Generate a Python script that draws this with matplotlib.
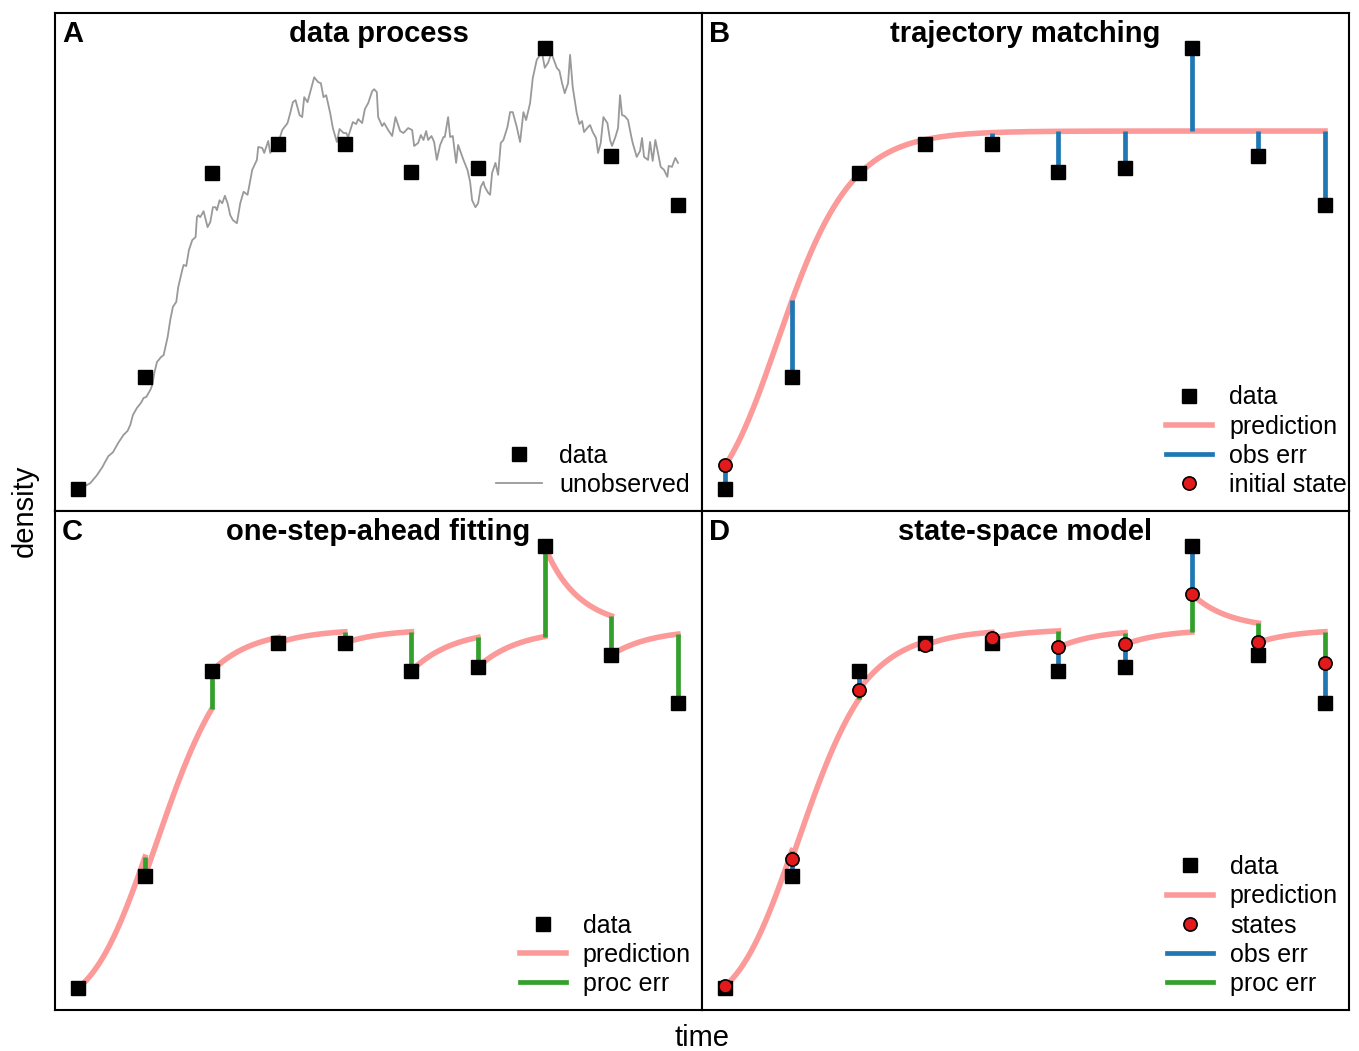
import numpy as np
from matplotlib import pyplot as plt
from matplotlib.lines import Line2D

plt.rcParams['font.family'] = ['Liberation Sans', 'DejaVu Sans']

# observation times and observed densities
times = np.arange(10)
obs = [4.4, 26.9, 67.9, 73.6, 73.6, 68.0, 68.8, 92.9, 71.2, 61.5]

# estimated states (state-space model) and initial state (trajectory matching)
states = [4.8, 30.3, 64.1, 73.1, 74.5, 72.7, 73.3, 83.4, 73.7, 69.5]
init_state = 9.2

# growth model parameters (theta-logistic)
K, r, theta = 76.3, 3.4, 0.5

# unobserved true process
hidden_t = [0.00, 0.10, 0.18, 0.28, 0.36, 0.40, 0.45, 0.52, 0.60, 0.68, 0.74, 0.78, 0.82, 0.88,
            0.94, 0.98, 1.02, 1.08, 1.11, 1.14, 1.18, 1.24, 1.28, 1.34, 1.38, 1.42, 1.47, 1.50,
            1.56, 1.58, 1.62, 1.66, 1.71, 1.76, 1.78, 1.80, 1.83, 1.88, 1.94, 1.98, 2.02, 2.06,
            2.08, 2.12, 2.16, 2.20, 2.24, 2.28, 2.32, 2.38, 2.43, 2.48, 2.54, 2.61, 2.68, 2.70,
            2.76, 2.79, 2.85, 2.88, 2.92, 3.00, 3.06, 3.14, 3.18, 3.22, 3.26, 3.32, 3.36, 3.39,
            3.44, 3.50, 3.54, 3.60, 3.64, 3.68, 3.72, 3.78, 3.82, 3.88, 3.92, 3.98, 4.02, 4.05,
            4.12, 4.17, 4.20, 4.26, 4.30, 4.35, 4.41, 4.44, 4.48, 4.50, 4.56, 4.59, 4.65, 4.71,
            4.76, 4.83, 4.88, 4.95, 5.01, 5.04, 5.10, 5.14, 5.18, 5.22, 5.25, 5.30, 5.34, 5.38,
            5.43, 5.48, 5.50, 5.55, 5.58, 5.62, 5.67, 5.70, 5.78, 5.84, 5.88, 5.91, 5.96, 6.00,
            6.04, 6.08, 6.10, 6.15, 6.18, 6.21, 6.26, 6.30, 6.34, 6.38, 6.44, 6.48, 6.52, 6.58,
            6.63, 6.68, 6.72, 6.78, 6.82, 6.88, 6.93, 6.96, 7.00, 7.05, 7.10, 7.12, 7.18, 7.22,
            7.26, 7.30, 7.35, 7.38, 7.42, 7.48, 7.52, 7.56, 7.59, 7.65, 7.68, 7.72, 7.77, 7.80,
            7.84, 7.88, 7.94, 7.98, 8.01, 8.06, 8.10, 8.13, 8.16, 8.20, 8.25, 8.30, 8.32, 8.38,
            8.43, 8.46, 8.49, 8.55, 8.58, 8.62, 8.66, 8.70, 8.74, 8.79, 8.84, 8.86, 8.91, 8.92,
            8.96, 9.00]
hidden_d = [4.4, 5.0, 5.6, 7.2, 8.8, 9.8, 11.0, 11.8, 13.7, 15.3, 16.1, 17.3, 19.3, 20.7,
            21.7, 22.7, 22.9, 24.3, 25.3, 27.7, 29.9, 30.9, 31.3, 34.9, 38.4, 41.0, 42.0, 45.0,
            48.4, 49.4, 49.2, 52.4, 54.4, 55.0, 59.0, 59.4, 59.0, 60.2, 57.0, 58.0, 61.0, 61.0,
            60.4, 62.4, 61.8, 63.3, 61.8, 59.4, 58.4, 57.8, 61.8, 64.1, 63.5, 68.5, 70.5, 73.1,
            72.9, 71.9, 74.3, 71.9, 72.7, 73.9, 76.5, 77.9, 79.9, 82.1, 82.5, 79.5, 79.1, 83.1,
            82.1, 85.1, 87.1, 86.1, 85.9, 83.1, 83.5, 79.9, 76.9, 74.1, 76.7, 75.9, 75.9, 75.1,
            78.1, 77.7, 78.7, 77.9, 80.7, 81.9, 84.3, 84.7, 84.1, 79.1, 77.3, 77.9, 76.5, 75.3,
            79.1, 76.3, 75.9, 76.9, 76.5, 73.3, 73.9, 75.5, 74.5, 76.3, 74.5, 75.3, 74.1, 70.5,
            73.5, 75.1, 75.1, 79.1, 75.1, 75.3, 69.9, 73.5, 70.5, 68.5, 66.1, 62.4, 61.0, 61.8,
            65.1, 66.1, 65.1, 63.9, 63.5, 67.9, 69.9, 67.5, 73.9, 74.5, 77.1, 80.1, 80.1, 77.1,
            74.1, 80.1, 78.5, 81.9, 86.9, 90.6, 91.6, 92.0, 89.0, 90.0, 92.0, 91.2, 89.0, 88.4,
            85.9, 83.9, 85.9, 91.6, 85.1, 79.9, 77.7, 78.3, 76.1, 77.1, 77.5, 76.1, 74.9, 71.9,
            73.9, 79.1, 77.9, 74.5, 73.3, 75.1, 76.9, 83.5, 79.5, 79.3, 78.5, 75.1, 73.9, 71.1,
            72.3, 74.9, 71.1, 70.5, 74.1, 70.3, 74.5, 71.9, 69.1, 68.5, 67.1, 69.3, 69.1, 69.5,
            70.9, 69.9]

PRED = '#FB9A99'
OBS = '#1F78B4'
PROC = '#33A02C'
STATE = '#E31A1C'
GREY = '#999999'


def grow(n0, dt):
    # theta-logistic solution from n0 after time dt
    u = ((n0 / K) ** (-theta) - 1) * np.exp(-r * theta * dt)
    return K * (1 + u) ** (-1 / theta)


W, H = 1359, 1051
fig = plt.figure(figsize=(W / 100, H / 100), dpi=100)
xl, xm, xr = 55 / W, 702 / W, 1349 / W
yt, ym, yb = 1 - 13 / H, 1 - 511 / H, 1 - 1010 / H
axA = fig.add_axes([xl, ym, xm - xl, yt - ym])
axB = fig.add_axes([xm, ym, xr - xm, yt - ym])
axC = fig.add_axes([xl, yb, xm - xl, ym - yb])
axD = fig.add_axes([xm, yb, xr - xm, ym - yb])

sq = dict(marker='s', ms=10, color='black', ls='none', zorder=5)
circ = dict(marker='o', ms=9.5, mfc=STATE, mec='black', mew=1.2, ls='none', zorder=6)

for ax, letter, title in [(axA, 'A', 'data process'), (axB, 'B', 'trajectory matching'),
                          (axC, 'C', 'one-step-ahead fitting'), (axD, 'D', 'state-space model')]:
    ax.set_xlim(-0.35, 9.36)
    ax.set_ylim(0, 100)
    ax.set_xticks([]); ax.set_yticks([])
    for s in ax.spines.values():
        s.set_linewidth(1.5)
    ax.text(0.011, 0.957, letter, transform=ax.transAxes, ha='left', va='center',
            fontsize=21, fontweight='bold')
    ax.text(0.5, 0.957, title, transform=ax.transAxes, ha='center', va='center',
            fontsize=21, fontweight='bold')


def add_legend(ax, handles, labels, right_gap):
    ax.legend(handles, labels, loc='lower right', frameon=False, fontsize=18,
              handlelength=1.85, handletextpad=0.68, labelspacing=0.21, borderpad=0,
              borderaxespad=0, bbox_to_anchor=(1 - right_gap / 647, 0.028))


h_data = Line2D([], [], marker='s', ms=10, color='black', ls='none')
h_pred = Line2D([], [], color=PRED, lw=4)
h_obs = Line2D([], [], color=OBS, lw=3.4)
h_proc = Line2D([], [], color=PROC, lw=3.4)
h_state = Line2D([], [], marker='o', ms=9.5, mfc=STATE, mec='black', mew=1.2, ls='none')

# A: data process
axA.plot(hidden_t, hidden_d, color=GREY, lw=1.3)
axA.plot(times, obs, **sq)
add_legend(axA, [h_data, Line2D([], [], color=GREY, lw=1.3)], ['data', 'unobserved'], 12)

# B: trajectory matching
tt = np.linspace(0, 9, 400)
axB.plot(tt, grow(init_state, tt), color=PRED, lw=4, zorder=2)
axB.vlines(times, grow(init_state, times), obs, color=OBS, lw=3.4, zorder=3)
axB.plot(times, obs, **sq)
axB.plot([0], [init_state], **circ)
add_legend(axB, [h_data, h_pred, h_obs, h_state],
           ['data', 'prediction', 'obs err', 'initial state'], 2)

# C: one-step-ahead fitting
seg = np.linspace(0, 1, 60)
for i in range(9):
    axC.plot(times[i] + seg, grow(obs[i], seg), color=PRED, lw=4, zorder=2)
    axC.vlines(times[i + 1], grow(obs[i], 1.0), obs[i + 1], color=PROC, lw=3.4, zorder=3)
axC.plot(times, obs, **sq)
add_legend(axC, [h_data, h_pred, h_proc], ['data', 'prediction', 'proc err'], 11)

# D: state-space model
for i in range(9):
    axD.plot(times[i] + seg, grow(states[i], seg), color=PRED, lw=4, zorder=2)
    axD.vlines(times[i + 1], grow(states[i], 1.0), states[i + 1], color=PROC, lw=3.4, zorder=3)
axD.vlines(times, states, obs, color=OBS, lw=3.4, zorder=3)
axD.plot(times, obs, **sq)
axD.plot(times, states, **circ)
add_legend(axD, [h_data, h_pred, h_state, h_obs, h_proc],
           ['data', 'prediction', 'states', 'obs err', 'proc err'], 11)

fig.text(25 / W, 1 - 511 / H, 'density', rotation=90, ha='center', va='center', fontsize=21)
fig.text(702 / W, 1 - 1038 / H, 'time', ha='center', va='center', fontsize=21)

fig.savefig('out.png', dpi=100)
